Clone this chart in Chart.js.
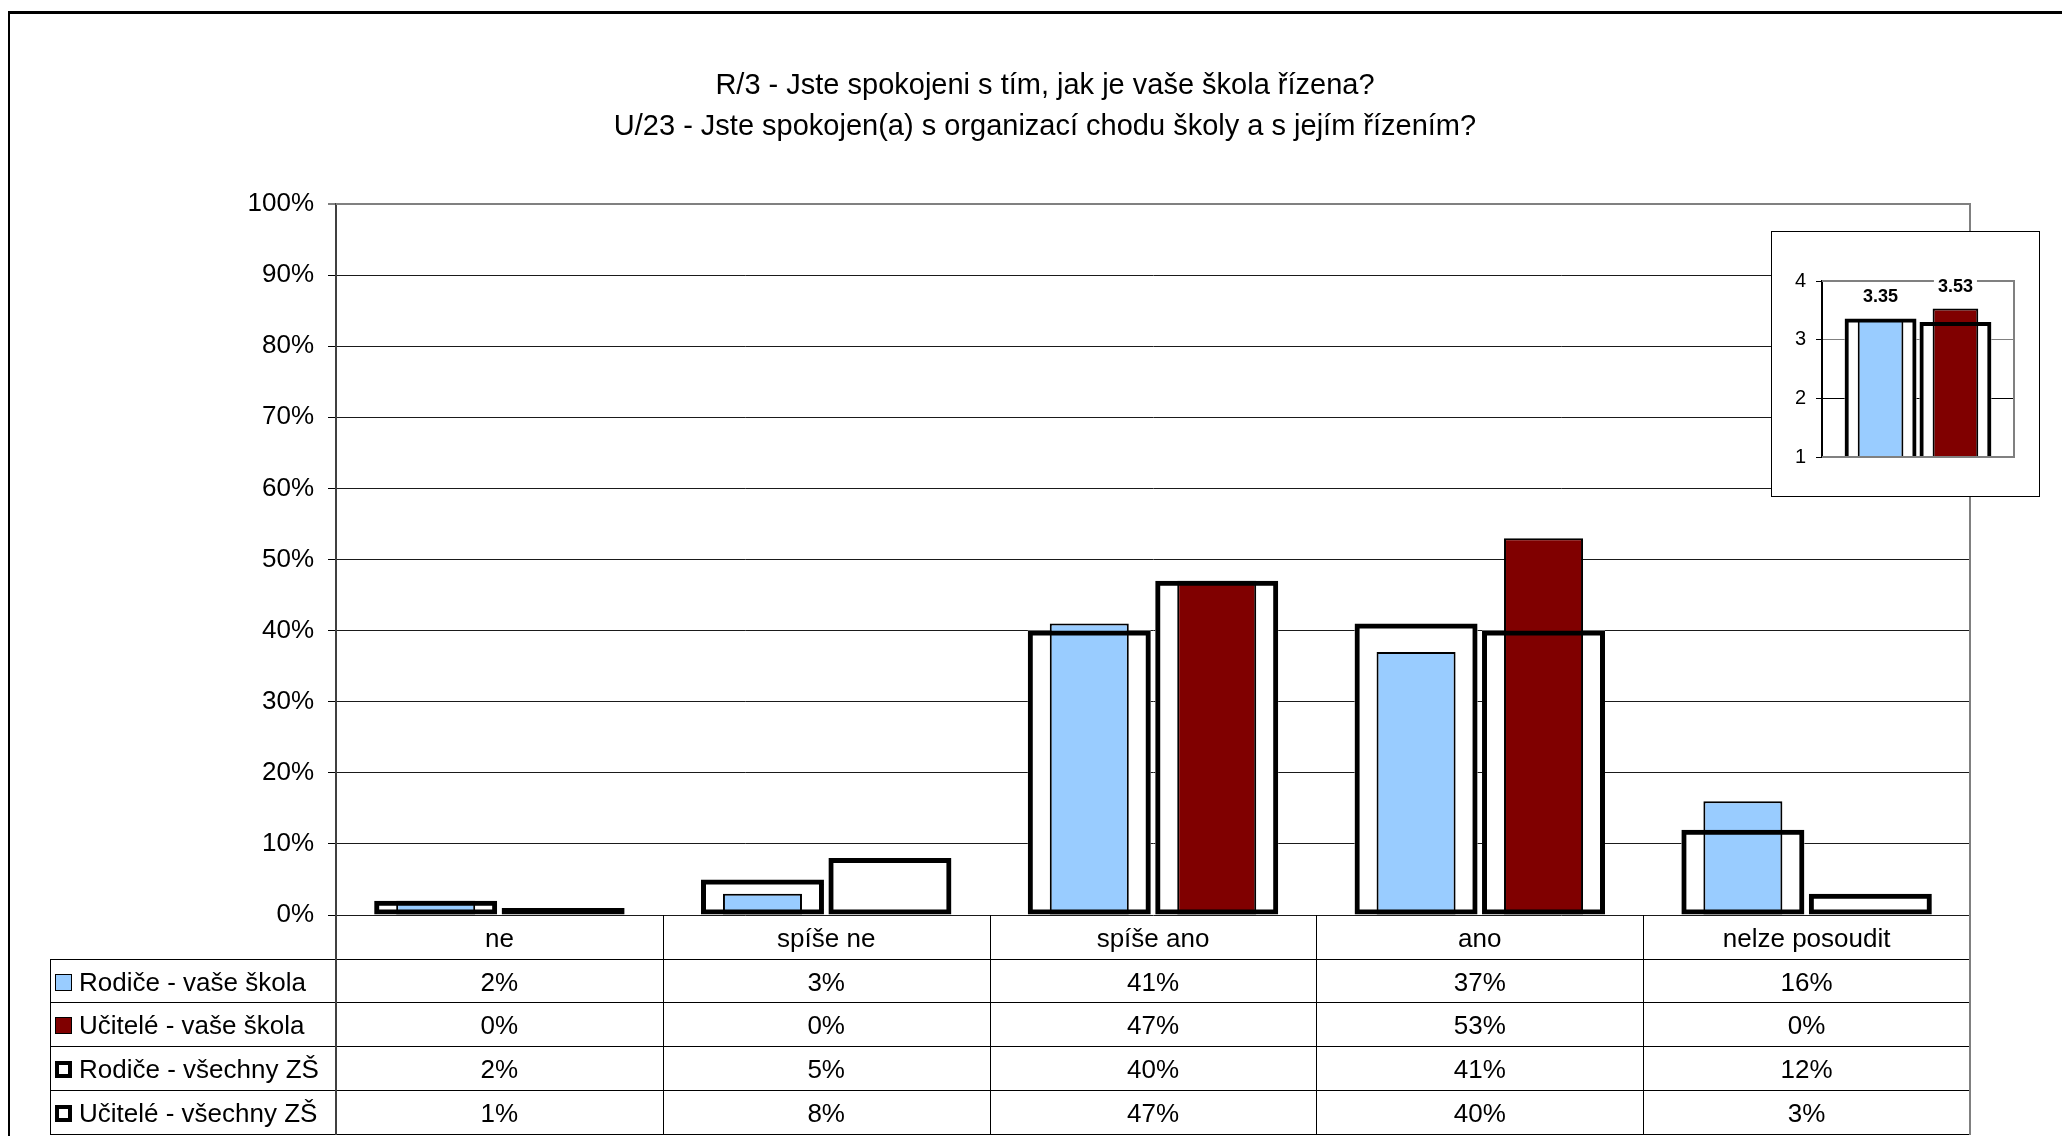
<!DOCTYPE html>
<html>
<head>
<meta charset="utf-8">
<script src="https://cdn.jsdelivr.net/npm/chart.js@4.4.1/dist/chart.umd.min.js"></script>
<style>
  html, body { margin: 0; padding: 0; background: #fff; }
  #wrap { position: relative; width: 2062px; height: 1136px; overflow: hidden; }
  #main { position: absolute; left: 0; top: 0; }
  #title { position: absolute; left: 545px; top: 64px; width: 1000px; text-align: center;
           font-family: 'Liberation Sans', Arial, sans-serif; font-size: 29px; line-height: 41px; color: #000; }
  #inset { position: absolute; left: 1771px; top: 231px; width: 267px; height: 264px;
           border: 1px solid #000; background: #fff; }
  #insetCanvas { position: absolute; left: 0; top: 0; }
</style>
</head>
<body>
<div id="wrap">
  <canvas id="main" width="2062" height="1136"></canvas>
  <div id="title">R/3 - Jste spokojeni s tím, jak je vaše škola řízena?<br>U/23 - Jste spokojen(a) s organizací chodu školy a s jejím řízením?</div>
  <div id="inset"><canvas id="insetCanvas" width="267" height="264"></canvas></div>
</div>
<script>
// ---------- data ----------
const categories = ['ne', 'spíše ne', 'spíše ano', 'ano', 'nelze posoudit'];
const seriesNames = ['Rodiče - vaše škola', 'Učitelé - vaše škola', 'Rodiče - všechny ZŠ', 'Učitelé - všechny ZŠ'];
const rodiceSkola = [2, 3, 41, 37, 16];
const uciteleSkola = [0, 0, 47, 53, 0];
const rodiceVse = [2, 5, 40, 41, 12];
const uciteleVse = [1, 8, 47, 40, 3];
const yTickValues = [0, 10, 20, 30, 40, 50, 60, 70, 80, 90, 100];

const insetCategories = [''];
const insetRodiceSkola = [3.35];
const insetUciteleSkola = [3.53];
const insetRodiceVse = [3.36];
const insetUciteleVse = [3.30];
const insetTickValues = [1, 2, 3, 4];

// ---------- styles ----------
const FONT = "'Liberation Sans', Arial, sans-serif";
const BLUE = '#99CCFF';
const RED = '#800000';

const frameAndTable = {
  id: 'frameAndTable',
  beforeDraw(chart) {
    const ctx = chart.ctx;
    ctx.save();
    ctx.fillStyle = '#000';
    ctx.fillRect(8, 11, 2062, 3);
    ctx.fillRect(8, 11, 2, 1136);
    ctx.restore();
  },
  afterDraw(chart) {
    const ctx = chart.ctx, ca = chart.chartArea, xs = chart.scales.x;
    const n = categories.length;
    const w = (ca.right - ca.left) / n;
    const top = ca.bottom;
    const rowH = 43.7;
    const legendLeft = 50;
    const rows = [rodiceSkola, uciteleSkola, rodiceVse, uciteleVse];
    ctx.save();
    // plot border (grey)
    ctx.strokeStyle = '#808080';
    ctx.lineWidth = 2;
    ctx.beginPath();
    ctx.moveTo(ca.left, ca.top); ctx.lineTo(ca.right, ca.top); ctx.lineTo(ca.right, ca.bottom);
    ctx.stroke();
    // table lines
    ctx.strokeStyle = '#000';
    ctx.lineWidth = 1;
    ctx.beginPath();
    for (let r = 1; r <= 5; r++) {
      const y = Math.round(top + r * rowH) + 0.5;
      ctx.moveTo(legendLeft, y); ctx.lineTo(ca.right, y);
    }
    for (let i = 1; i < n; i++) {
      const x = Math.round(ca.left + i * w) + 0.5;
      ctx.moveTo(x, top); ctx.lineTo(x, Math.round(top + 5 * rowH) + 0.5);
    }
    ctx.moveTo(legendLeft + 0.5, Math.round(top + rowH)); ctx.lineTo(legendLeft + 0.5, Math.round(top + 5 * rowH) + 0.5);
    ctx.stroke();
    ctx.strokeStyle = '#404040';
    ctx.lineWidth = 2;
    ctx.beginPath();
    ctx.moveTo(ca.left, top); ctx.lineTo(ca.left, Math.round(top + 5 * rowH) + 1);
    ctx.stroke();
    ctx.strokeStyle = '#808080';
    ctx.beginPath();
    ctx.moveTo(ca.right, top); ctx.lineTo(ca.right, Math.round(top + 5 * rowH) + 1);
    ctx.stroke();
    // texts
    ctx.fillStyle = '#000';
    ctx.font = '26px ' + FONT;
    ctx.textBaseline = 'middle';
    ctx.textAlign = 'center';
    categories.forEach((c, i) => {
      ctx.fillText(c, xs.getPixelForValue(i), top + rowH / 2 + 3);
    });
    rows.forEach((arr, r) => {
      const yc = top + (r + 1.5) * rowH + 3;
      ctx.textAlign = 'center';
      arr.forEach((v, i) => ctx.fillText(v + '%', xs.getPixelForValue(i), yc));
      // legend key
      const kx = 55, ky = Math.round(yc - 10), ks = 17;
      if (r < 2) {
        ctx.fillStyle = '#000';
        ctx.fillRect(kx, ky, ks, ks);
        ctx.fillStyle = r === 0 ? BLUE : RED;
        ctx.fillRect(kx + 1, ky + 1, ks - 2, ks - 2);
      } else {
        ctx.fillStyle = '#000';
        ctx.fillRect(kx, ky, ks, ks);
        ctx.fillStyle = '#fff';
        ctx.fillRect(kx + 4, ky + 4, ks - 8, ks - 8);
      }
      ctx.fillStyle = '#000';
      ctx.textAlign = 'left';
      ctx.fillText(seriesNames[r], 79, yc);
    });
    ctx.restore();
  }
};

const CAT_PCT = 0.78;
// datasets sharing a "stack" id share one slot (y scale is not stacked, so values are not added)
function filled(label, data, color, stack, bp) {
  return { label, data, stack, backgroundColor: color, borderColor: '#000', borderWidth: 2,
           borderSkipped: false, barPercentage: bp, categoryPercentage: CAT_PCT, order: 1, showLabel: true };
}
function outlineFill(label, data, stack, bp) {
  return { label: label + ' (fill)', data, stack, backgroundColor: '#fff', borderWidth: 0,
           barPercentage: bp, categoryPercentage: CAT_PCT, order: 2 };
}
function outlineBorder(label, data, stack, bp, bw) {
  return { label, data, stack, backgroundColor: 'rgba(0,0,0,0)', borderColor: '#000', borderWidth: bw,
           borderSkipped: false, barPercentage: bp, categoryPercentage: CAT_PCT, order: 0 };
}

new Chart(document.getElementById('main'), {
  type: 'bar',
  data: {
    labels: categories,
    datasets: [
      outlineBorder(seriesNames[2], rodiceVse, 'a', 0.965, 5),
      outlineBorder(seriesNames[3], uciteleVse, 'b', 0.965, 5),
      filled(seriesNames[0], rodiceSkola, BLUE, 'a', 0.62),
      filled(seriesNames[1], uciteleSkola, RED, 'b', 0.62),
      outlineFill(seriesNames[2], rodiceVse, 'a', 0.965),
      outlineFill(seriesNames[3], uciteleVse, 'b', 0.965)
    ]
  },
  options: {
    responsive: false,
    animation: false,
    devicePixelRatio: 1,
    layout: { padding: { top: 204, right: 92, bottom: 221, left: 0 } },
    plugins: { legend: { display: false }, tooltip: { enabled: false }, title: { display: false } },
    scales: {
      x: { type: 'category', offset: true, display: false },
      y: {
        min: 0, max: 100, stacked: false,
        afterFit(s) { s.width = 336; },
        afterBuildTicks(s) { s.ticks = yTickValues.map(v => ({ value: v })); },
        ticks: { font: { family: FONT, size: 26 }, color: '#000', padding: 14,
                 callback: v => v + '%' },
        grid: { color: ctx => ctx.tick && ctx.tick.value === 100 ? '#808080' : '#1a1a1a',
                lineWidth: ctx => ctx.tick && ctx.tick.value === 100 ? 2 : 1,
                tickLength: 8, tickColor: '#000', tickWidth: 1 },
        border: { display: true, color: '#404040', width: 2 }
      }
    }
  },
  plugins: [frameAndTable]
});

// ---------- inset ----------
const insetLabelsPlugin = {
  id: 'insetLabels',
  afterDraw(chart) {
    const ctx = chart.ctx;
    const ca = chart.chartArea;
    ctx.save();
    ctx.strokeStyle = '#808080';
    ctx.lineWidth = 2;
    ctx.beginPath();
    ctx.moveTo(ca.left, ca.top); ctx.lineTo(ca.right, ca.top); ctx.lineTo(ca.right, ca.bottom); ctx.lineTo(ca.left, ca.bottom);
    ctx.stroke();
    ctx.font = 'bold 18px ' + FONT;
    ctx.textAlign = 'center';
    ctx.textBaseline = 'middle';
    chart.data.datasets.forEach((ds, di) => {
      if (!ds.showLabel) return;
      const meta = chart.getDatasetMeta(di);
      meta.data.forEach((el, i) => {
        const txt = ds.data[i].toFixed(2);
        const y = el.y - 22;
        const tw = ctx.measureText(txt).width;
        ctx.fillStyle = '#fff';
        ctx.fillRect(el.x - tw / 2 - 4, y - 11, tw + 8, 22);
        ctx.fillStyle = '#000';
        ctx.fillText(txt, el.x, y);
      });
    });
    ctx.restore();
  }
};

new Chart(document.getElementById('insetCanvas'), {
  type: 'bar',
  data: {
    labels: insetCategories,
    datasets: [
      outlineBorder(seriesNames[2], insetRodiceVse, 'a', 0.96, 4),
      outlineBorder(seriesNames[3], insetUciteleVse, 'b', 0.96, 4),
      filled(seriesNames[0], insetRodiceSkola, BLUE, 'a', 0.61),
      filled(seriesNames[1], insetUciteleSkola, RED, 'b', 0.61),
      outlineFill(seriesNames[2], insetRodiceVse, 'a', 0.96),
      outlineFill(seriesNames[3], insetUciteleVse, 'b', 0.96)
    ]
  },
  options: {
    responsive: false,
    animation: false,
    devicePixelRatio: 1,
    layout: { padding: { top: 49, right: 25, bottom: 39, left: 0 } },
    plugins: { legend: { display: false }, tooltip: { enabled: false } },
    scales: {
      x: { type: 'category', offset: true, display: false },
      y: {
        min: 1, max: 4, stacked: false,
        afterFit(s) { s.width = 50; },
        afterBuildTicks(s) { s.ticks = insetTickValues.map(v => ({ value: v })); },
        ticks: { font: { family: FONT, size: 20 }, color: '#000', padding: 10 },
        grid: { color: ctx => ctx.tick && ctx.tick.value === 2 ? '#000' : '#808080', lineWidth: 1, tickLength: 6, tickColor: '#000' },
        border: { display: true, color: '#000', width: 2 }
      }
    }
  },
  plugins: [insetLabelsPlugin]
});
</script>
</body>
</html>
